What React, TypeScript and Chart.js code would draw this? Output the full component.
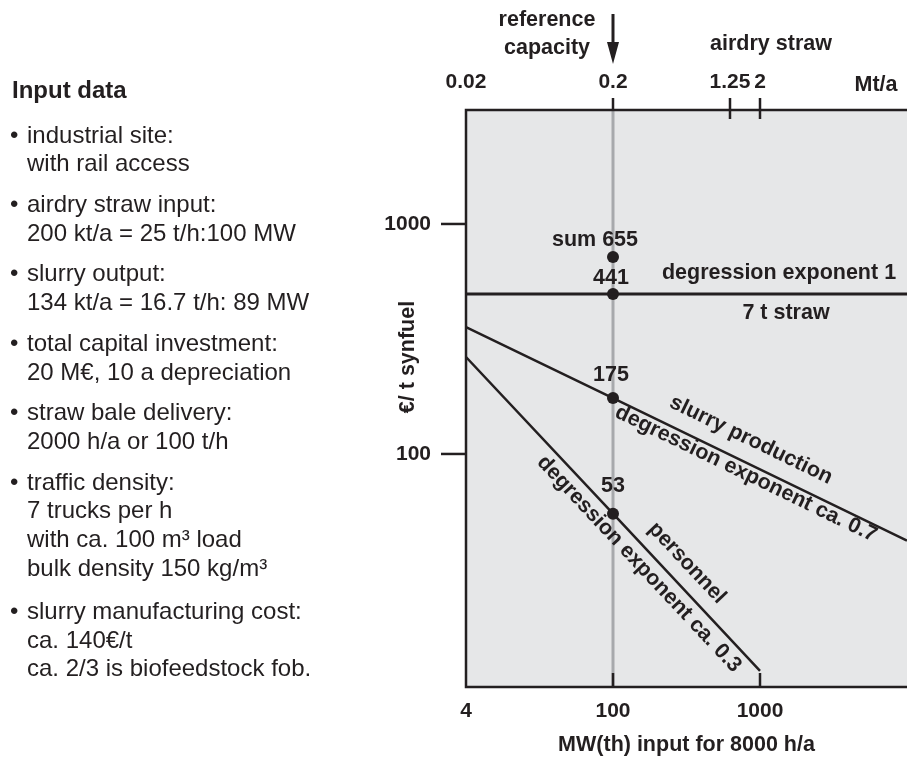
import React, { useEffect, useRef } from "react";
import { Chart, registerables } from "chart.js";

Chart.register(...registerables);

const FONT = '"Liberation Sans", Arial, Helvetica, sans-serif';
const INK = "#231f20";

// ---------- data ----------
const mwRange = [10, 10000];
const mtaRange = [0.02, 20];
const costRange = [9.7, 3130];

const mwTickValues = [10, 100, 1000];
const mwTickLabels = ["4", "100", "1000"];
const mwInnerTicks = [100, 1000];
const mtaTickValues = [0.02, 0.2, 1.25, 2];
const mtaTickLabels = ["0.02", "0.2", "1.25", "2"];
const mtaInnerTicks = [1.25, 2];
const costTickValues = [100, 1000];
const costTickLabels = ["100", "1000"];

const referenceMW = 100;
const referenceMta = 0.2;

const strawMW = [10, 10000];
const strawCost = [496, 496];
const slurryMW = [10, 100, 10000];
const slurryCost = [356, 175, 42];
const personnelMW = [10, 100, 1000];
const personnelCost = [264, 55, 11.4];

const refPointCost = [719, 496, 175, 55];
const refPointLabels = ["sum 655", "441", "175", "53"];

const inputHeading = "Input data";
const inputItems = [
  ["industrial site:", "with rail access"],
  ["airdry straw input:", "200 kt/a = 25 t/h:100 MW"],
  ["slurry output:", "134 kt/a = 16.7 t/h: 89 MW"],
  ["total capital investment:", "20 M€, 10 a depreciation"],
  ["straw bale delivery:", "2000 h/a or 100 t/h"],
  ["traffic density:", "7 trucks per h", "with ca. 100 m³ load", "bulk density 150 kg/m³"],
  ["slurry manufacturing cost:", "ca. 140€/t", "ca. 2/3 is biofeedstock fob."],
];

const toXY = (xs: number[], ys: number[]) => xs.map((x, i) => ({ x, y: ys[i] }));

// ---------- layout / style ----------
const CHART_LEFT = 466;
const CHART_TOP = 110;
const CHART_BOTTOM_SPACE = 70;
const LABEL_FONT = `bold 21.5px ${FONT}`;

const overlayPlugin = {
  id: "overlay",
  beforeDatasetsDraw(chart: any) {
    const { ctx, chartArea: a, scales } = chart;
    ctx.save();
    ctx.fillStyle = "#e6e7e8";
    ctx.fillRect(a.left, a.top, a.right - a.left, a.bottom - a.top);
    const rx = scales.x.getPixelForValue(referenceMW);
    ctx.strokeStyle = "#a7a9ac";
    ctx.lineWidth = 3;
    ctx.beginPath();
    ctx.moveTo(rx, a.top);
    ctx.lineTo(rx, a.bottom);
    ctx.stroke();
    ctx.restore();
  },
  afterDatasetsDraw(chart: any) {
    const { ctx, chartArea: a, scales } = chart;
    const x = scales.x;
    const y = scales.y;
    const xt = scales.xTop;
    ctx.save();
    ctx.strokeStyle = INK;
    ctx.fillStyle = INK;
    ctx.lineWidth = 2.5;
    ctx.lineCap = "butt";
    // borders (left, top, bottom)
    ctx.beginPath();
    ctx.moveTo(a.right, a.top);
    ctx.lineTo(a.left, a.top);
    ctx.lineTo(a.left, a.bottom);
    ctx.lineTo(a.right, a.bottom);
    ctx.stroke();
    // y ticks (outside)
    costTickValues.forEach((v) => {
      const py = y.getPixelForValue(v);
      ctx.beginPath();
      ctx.moveTo(a.left - 25, py);
      ctx.lineTo(a.left, py);
      ctx.stroke();
    });
    // bottom ticks (inside)
    mwInnerTicks.forEach((v) => {
      const px = x.getPixelForValue(v);
      ctx.beginPath();
      ctx.moveTo(px, a.bottom);
      ctx.lineTo(px, a.bottom - 14);
      ctx.stroke();
    });
    // top ticks
    const rpx = xt.getPixelForValue(referenceMta);
    ctx.beginPath();
    ctx.moveTo(rpx, a.top - 12);
    ctx.lineTo(rpx, a.top);
    ctx.stroke();
    mtaInnerTicks.forEach((v) => {
      const px = xt.getPixelForValue(v);
      ctx.beginPath();
      ctx.moveTo(px, a.top - 12);
      ctx.lineTo(px, a.top + 9);
      ctx.stroke();
    });

    // texts
    ctx.font = LABEL_FONT;
    ctx.textAlign = "center";
    ctx.textBaseline = "middle";
    const rx = x.getPixelForValue(referenceMW);
    const labelDx = [-18, -2, -2, 0];
    const labelDy = [-17, -16, -23, -28];
    refPointCost.forEach((v, i) => {
      ctx.fillText(refPointLabels[i], rx + labelDx[i], y.getPixelForValue(v) + labelDy[i]);
    });
    const hy = y.getPixelForValue(strawCost[0]);
    ctx.fillText("degression exponent 1", 779, hy - 21);
    ctx.fillText("7 t straw", 786, hy + 19);

    const rot = (t: string, cx: number, cy: number, ang: number) => {
      ctx.save();
      ctx.translate(cx, cy);
      ctx.rotate(ang);
      ctx.fillText(t, 0, 0);
      ctx.restore();
    };
    const sAng = Math.atan2(
      y.getPixelForValue(slurryCost[slurryCost.length - 1]) - y.getPixelForValue(slurryCost[0]),
      x.getPixelForValue(slurryMW[slurryMW.length - 1]) - x.getPixelForValue(slurryMW[0])
    );
    rot("slurry production", 751, 440, sAng);
    rot("degression exponent ca. 0.7", 746, 474, sAng);
    const pAng = Math.atan2(
      y.getPixelForValue(personnelCost[personnelCost.length - 1]) - y.getPixelForValue(personnelCost[0]),
      x.getPixelForValue(personnelMW[personnelMW.length - 1]) - x.getPixelForValue(personnelMW[0])
    );
    rot("personnel", 687, 563, pAng);
    rot("degression exponent ca. 0.3", 639, 564, pAng);

    // axis titles
    ctx.fillText("MW(th) input for 8000 h/a", (a.left + a.right) / 2, 745);
    ctx.fillText("Mt/a", 876, 85);
    ctx.fillText("airdry straw", 771, 44);
    ctx.fillText("reference", 547, 20);
    ctx.fillText("capacity", 547, 48);
    rot("€/ t synfuel", 408, 357, -Math.PI / 2);

    // arrow
    const ax = xt.getPixelForValue(referenceMta);
    ctx.lineWidth = 3;
    ctx.beginPath();
    ctx.moveTo(ax, 14);
    ctx.lineTo(ax, 46);
    ctx.stroke();
    ctx.beginPath();
    ctx.moveTo(ax - 6, 42);
    ctx.lineTo(ax + 6, 42);
    ctx.lineTo(ax, 64);
    ctx.closePath();
    ctx.fill();
    ctx.restore();
  },
};

function ChartPanel() {
  const ref = useRef<HTMLCanvasElement | null>(null);
  useEffect(() => {
    if (!ref.current) return;
    const tickFont = { family: FONT, size: 21, weight: "bold" as const };
    const chart = new Chart(ref.current, {
      type: "line",
      data: {
        datasets: [
          { data: toXY(strawMW, strawCost), borderColor: INK, borderWidth: 3, pointRadius: 0 },
          { data: toXY(slurryMW, slurryCost), borderColor: INK, borderWidth: 2.5, pointRadius: 0 },
          { data: toXY(personnelMW, personnelCost), borderColor: INK, borderWidth: 2.5, pointRadius: 0 },
          {
            data: refPointCost.map((c) => ({ x: referenceMW, y: c })),
            showLine: false,
            pointRadius: 6,
            pointBackgroundColor: INK,
            pointBorderColor: INK,
            borderWidth: 0,
          },
        ],
      },
      options: {
        animation: false,
        responsive: false,
        events: [],
        layout: { padding: { left: 0, right: 1, top: 0, bottom: 0 } },
        plugins: { legend: { display: false }, tooltip: { enabled: false }, title: { display: false } },
        scales: {
          x: {
            type: "logarithmic",
            position: "bottom",
            min: mwRange[0],
            max: mwRange[1],
            afterBuildTicks: (s: any) => {
              s.ticks = mwTickValues.map((v) => ({ value: v }));
            },
            afterFit: (s: any) => {
              s.height = CHART_BOTTOM_SPACE;
            },
            ticks: {
              autoSkip: false,
              maxRotation: 0,
              padding: 12,
              color: INK,
              font: tickFont,
              callback: (v: any) => mwTickLabels[mwTickValues.indexOf(Number(v))] ?? "",
            },
            grid: { display: false, drawTicks: false },
            border: { display: false },
          },
          xTop: {
            type: "logarithmic",
            position: "top",
            min: mtaRange[0],
            max: mtaRange[1],
            afterBuildTicks: (s: any) => {
              s.ticks = mtaTickValues.map((v) => ({ value: v }));
            },
            afterFit: (s: any) => {
              s.height = CHART_TOP;
            },
            ticks: {
              autoSkip: false,
              maxRotation: 0,
              padding: 15,
              color: INK,
              font: tickFont,
              callback: (v: any) => mtaTickLabels[mtaTickValues.indexOf(Number(v))] ?? "",
            },
            grid: { display: false, drawTicks: false },
            border: { display: false },
          },
          y: {
            type: "logarithmic",
            position: "left",
            min: costRange[0],
            max: costRange[1],
            afterBuildTicks: (s: any) => {
              s.ticks = costTickValues.map((v) => ({ value: v }));
            },
            afterFit: (s: any) => {
              s.width = CHART_LEFT;
            },
            ticks: {
              autoSkip: false,
              padding: 35,
              color: INK,
              font: tickFont,
              callback: (v: any) => costTickLabels[costTickValues.indexOf(Number(v))] ?? "",
            },
            grid: { display: false, drawTicks: false },
            border: { display: false },
          },
        },
      },
      plugins: [overlayPlugin],
    } as any);
    return () => chart.destroy();
  }, []);
  return <canvas ref={ref} width={913} height={757} style={{ display: "block" }} />;
}

export default function App() {
  const textStyle: React.CSSProperties = {
    fontFamily: FONT,
    color: INK,
    fontSize: "24px",
  };
  return (
    <div style={{ position: "absolute", left: 0, top: 0, width: 913, height: 757, background: "#fff" }}>
      <ChartPanel />
      <div style={{ ...textStyle, position: "absolute", left: 12, top: 89 - 14.5, fontWeight: "bold", lineHeight: "29px" }}>
        {inputHeading}
      </div>
      <div style={{ ...textStyle, position: "absolute", left: 0, top: 135 - 14.4, width: 360, lineHeight: "28.8px" }}>
        {inputItems.map((lines, i) => (
          <div
            key={i}
            style={{ position: "relative", paddingLeft: 27, marginBottom: i === inputItems.length - 2 ? 14 : 11.8 }}
          >
            <span style={{ position: "absolute", left: 10, top: 0 }}>•</span>
            {lines.map((l, j) => (
              <div key={j} style={{ whiteSpace: "nowrap" }}>
                {l}
              </div>
            ))}
          </div>
        ))}
      </div>
    </div>
  );
}
